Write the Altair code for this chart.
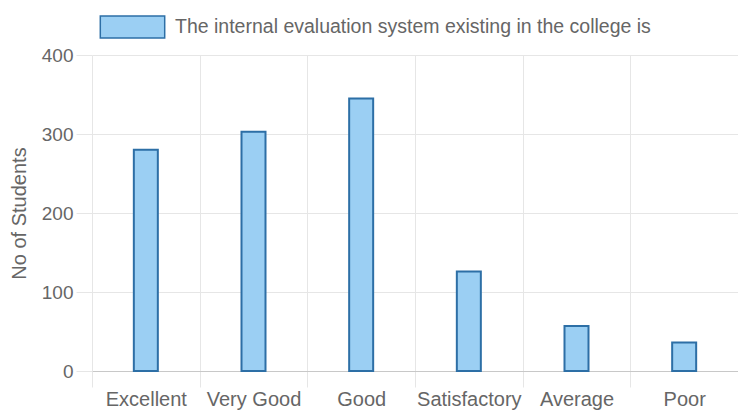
import altair as alt
import pandas as pd

categories = ["Excellent", "Very Good", "Good", "Satisfactory", "Average", "Poor"]
students = [280, 303, 345, 126, 57, 36]
series_name = "The internal evaluation system existing in the college is"
y_ticks = [0, 100, 200, 300, 400]

df = pd.DataFrame({
    "category": categories,
    "students": students,
    "series": [series_name] * len(categories),
})

FONT = "Liberation Sans"
TEXT = "#666666"
GRID = "#e6e6e6"
FILL = "#9bcff3"
EDGE = "#2d6fa6"

chart = alt.Chart(df).mark_bar(size=24, stroke=EDGE, strokeWidth=2).encode(
    x=alt.X(
        "category:N",
        sort=categories,
        scale=alt.Scale(paddingInner=0, paddingOuter=0),
        axis=alt.Axis(
            title=None, labelAngle=0, labelFontSize=20, labelColor=TEXT, labelFont=FONT,
            tickBand="extent", grid=True, gridColor=GRID, tickColor=GRID, tickSize=16,
            domainColor="#c8c8c8", labelPadding=2,
        ),
    ),
    y=alt.Y(
        "students:Q",
        scale=alt.Scale(domain=[0, 400], nice=False),
        axis=alt.Axis(
            title="No of Students", values=y_ticks, labelFontSize=19, labelColor=TEXT,
            labelFont=FONT, gridColor=GRID, tickColor=GRID, tickSize=16, labelPadding=3,
            domain=False, titleFontSize=20, titleColor=TEXT, titleFont=FONT,
            titleFontWeight="normal", titleX=-73, titleY=158, titleAngle=270,
            titleAlign="center", titleBaseline="middle",
        ),
    ),
    color=alt.Color(
        "series:N",
        scale=alt.Scale(range=[FILL]),
        legend=alt.Legend(
            title=None, orient="none", legendX=28, legendY=-40.5, direction="horizontal",
            symbolType="M-2.8,-0.95H2.8V0.95H-2.8Z", symbolSize=529,
            symbolStrokeColor=EDGE, symbolStrokeWidth=1.5, symbolOpacity=1,
            labelFontSize=19.5, labelColor=TEXT, labelFont=FONT, labelLimit=1000,
            labelOffset=30, padding=0,
        ),
    ),
).properties(
    width=646,
    height=316,
    autosize=alt.AutoSizeParams(type="none"),
    padding={"left": 84, "top": 47, "right": 0, "bottom": 40},
).configure_view(strokeWidth=0)

chart.save("out.html", embed_options={"renderer": "svg", "actions": False})
